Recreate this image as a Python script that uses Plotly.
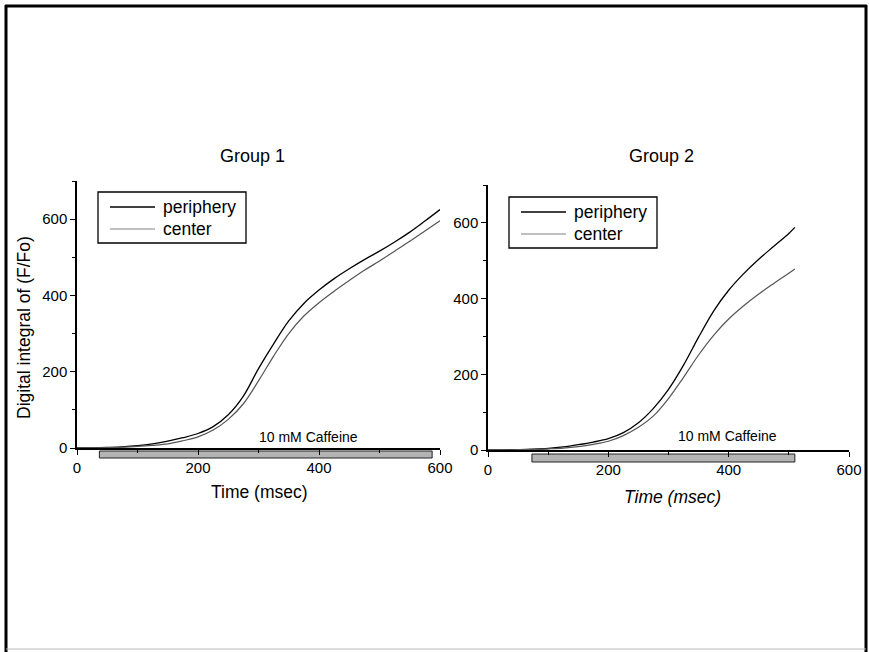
import plotly.graph_objects as go

W, H = 869, 652

# ---------------- data ----------------
t1 = [0, 25, 50, 75, 100, 125, 150, 175, 200, 225, 250, 275, 300, 325, 350,
      375, 400, 425, 450, 475, 500, 525, 550, 575, 600]
g1_periphery = [0, 0.5, 1.5, 3, 6, 11, 18, 27, 38, 56, 87, 136, 208, 273, 333,
                379, 414, 444, 470, 494, 516, 540, 566, 595, 625]
g1_center = [0, 0.3, 1, 2, 4, 7, 11, 19, 29, 47, 75, 116, 176, 241, 300,
             346, 381, 411, 439, 466, 490, 516, 542, 569, 596]

t2 = [0, 25, 50, 75, 100, 125, 150, 175, 200, 225, 250, 275, 300, 325, 350,
      375, 400, 425, 450, 475, 500, 510]
g2_periphery = [0, 0.5, 1, 2, 4, 8, 14, 21, 30, 46, 72, 110, 160, 224, 298,
                367, 422, 466, 504, 538, 572, 588]
g2_center = [0, 0.3, 0.8, 1.5, 3, 5, 9, 15, 23, 38, 60, 90, 136, 192, 251,
             303, 346, 381, 412, 440, 467, 478]

series_names = ["periphery", "center"]
caffeine_g1 = [37, 587]   # start, end (msec)
caffeine_g2 = [73, 510]
caffeine_label = "10 mM Caffeine"

x_ticks = [0, 200, 400, 600]
y_ticks = [0, 200, 400, 600]

FONT = "Liberation Sans, Arial, sans-serif"
COL_P = "black"
COL_C = "#555555"

fig = go.Figure()

fig.add_trace(go.Scatter(x=t1, y=g1_periphery, mode="lines", name=series_names[0],
                         line=dict(color=COL_P, width=1.3), xaxis="x", yaxis="y",
                         showlegend=False, line_shape="spline"))
fig.add_trace(go.Scatter(x=t1, y=g1_center, mode="lines", name=series_names[1],
                         line=dict(color=COL_C, width=1.2), xaxis="x", yaxis="y",
                         showlegend=False, line_shape="spline"))
fig.add_trace(go.Scatter(x=t2, y=g2_periphery, mode="lines", name=series_names[0],
                         line=dict(color=COL_P, width=1.3), xaxis="x2", yaxis="y2",
                         showlegend=False, line_shape="spline"))
fig.add_trace(go.Scatter(x=t2, y=g2_center, mode="lines", name=series_names[1],
                         line=dict(color=COL_C, width=1.2), xaxis="x2", yaxis="y2",
                         showlegend=False, line_shape="spline"))

def px_x(p):
    return p / W

def px_y(p):
    return 1 - p / H

axis_common = dict(showgrid=False, zeroline=False, showline=True, linecolor="black",
                   linewidth=1.5, ticks="outside", ticklen=5, tickwidth=1.2,
                   tickcolor="black", tickfont=dict(family=FONT, size=15, color="black"),
                   minor=dict(ticks="outside", ticklen=3, tickwidth=1, dtick=100,
                              tickcolor="black"),
                   layer="above traces", automargin=False, fixedrange=True)

fig.update_layout(
    width=W, height=H,
    margin=dict(l=0, r=0, t=0, b=0, autoexpand=False),
    paper_bgcolor="white", plot_bgcolor="rgba(0,0,0,0)",
    font=dict(family=FONT, color="black"),
    showlegend=False,
    xaxis=dict(domain=[px_x(77), px_x(440)], range=[0, 600], tickvals=x_ticks,
               anchor="y", **axis_common),
    yaxis=dict(domain=[px_y(448), px_y(181)], range=[0, 700], tickvals=y_ticks,
               anchor="x", **axis_common),
    xaxis2=dict(domain=[px_x(488), px_x(849)], range=[0, 600], tickvals=x_ticks,
                anchor="y2", **axis_common),
    yaxis2=dict(domain=[px_y(450), px_y(185)], range=[0, 700], tickvals=y_ticks,
                anchor="x2", **axis_common),
)

def paper_text(text, x, y, size, angle=0, xanchor="center"):
    return dict(text=text, x=px_x(x), y=px_y(y), xref="paper", yref="paper",
                xanchor=xanchor, yanchor="middle", showarrow=False,
                textangle=angle, font=dict(size=size))

ann = [
    paper_text("Group 1", 252, 156, 18),
    paper_text("Group 2", 661, 156, 18),
    paper_text("Digital integral of (F/Fo)", 24, 328, 17.5, -90),
    paper_text("Time (msec)", 259, 492, 17.5),
    paper_text("<i>Time (msec)</i>", 672, 497, 17.5),
    dict(text=caffeine_label, x=382, y=28, xref="x", yref="y", xanchor="center",
         yanchor="middle", showarrow=False, font=dict(size=14)),
    dict(text=caffeine_label, x=398, y=37, xref="x2", yref="y2", xanchor="center",
         yanchor="middle", showarrow=False, font=dict(size=14)),
]

shapes = []
# caffeine application bars (x in data units, just below the time axis)
shapes.append(dict(type="rect", xref="x", yref="y domain",
                   x0=caffeine_g1[0], x1=caffeine_g1[1], y0=-3 / 267, y1=-10 / 267,
                   fillcolor="#b4b4b4", line=dict(color="#222222", width=1),
                   layer="below"))
shapes.append(dict(type="rect", xref="x2", yref="y2 domain",
                   x0=caffeine_g2[0], x1=caffeine_g2[1], y0=-4 / 265, y1=-12 / 265,
                   fillcolor="#b4b4b4", line=dict(color="#222222", width=1),
                   layer="below"))

# legends (boxed key in each panel)
for (bx, by) in [(98, 192), (509, 197)]:
    shapes.append(dict(type="rect", xref="paper", yref="paper",
                       x0=px_x(bx), x1=px_x(bx + 148), y0=px_y(by), y1=px_y(by + 51),
                       line=dict(color="black", width=1.3), fillcolor="white",
                       layer="above"))
    for i, (name, col, lw) in enumerate([(series_names[0], COL_P, 1.3),
                                          (series_names[1], "#808080", 1.2)]):
        ly = by + 15 + 22 * i
        shapes.append(dict(type="line", xref="paper", yref="paper",
                           x0=px_x(bx + 12), x1=px_x(bx + 57), y0=px_y(ly), y1=px_y(ly),
                           line=dict(color=col, width=lw), layer="above"))
        ann.append(paper_text(name, bx + 63, ly, 17.5, xanchor="left"))

# page frame
shapes.append(dict(type="line", xref="paper", yref="paper", x0=px_x(6), x1=px_x(6),
                   y0=px_y(5), y1=0, line=dict(color="black", width=3)))
shapes.append(dict(type="line", xref="paper", yref="paper", x0=px_x(5), x1=px_x(867),
                   y0=px_y(6), y1=px_y(6), line=dict(color="black", width=3)))
shapes.append(dict(type="line", xref="paper", yref="paper", x0=px_x(866), x1=px_x(866),
                   y0=px_y(5), y1=0, line=dict(color="black", width=3)))
shapes.append(dict(type="line", xref="paper", yref="paper", x0=px_x(6), x1=px_x(866),
                   y0=px_y(649), y1=px_y(649), line=dict(color="#bbbbbb", width=1)))

fig.update_layout(shapes=shapes, annotations=ann)

fig.write_html("out.html")
